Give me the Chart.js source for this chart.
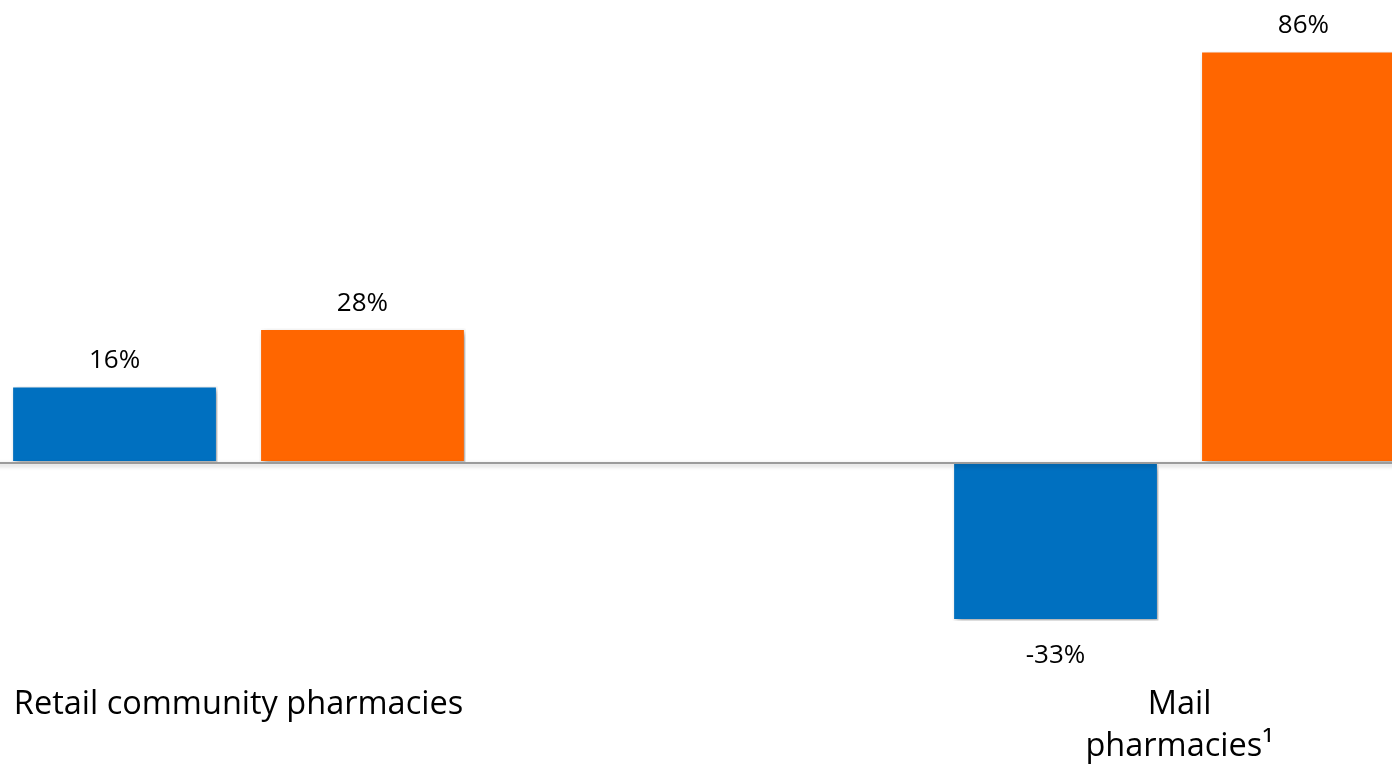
<!DOCTYPE html>
<html>
<head>
<meta charset="utf-8">
<script src="https://cdn.jsdelivr.net/npm/chart.js@4.4.1/dist/chart.umd.min.js"></script>
<style>
  html, body { margin: 0; padding: 0; background: #fff; overflow: hidden; width: 1392px; height: 766px; }
  #wrap { position: absolute; left: -232px; top: 0; width: 1882px; height: 766px; }
</style>
</head>
<body>
<div id="wrap"><canvas id="pharmacy-growth"></canvas></div>
<script>
const labels = [['Retail community pharmacies'], ['Mail', 'pharmacies\u00B9']];
const seriesBlue = [16, -33];
const seriesOrange = [28, 86];

// percent labels above (or below) each bar
const valueLabels = {
  id: 'valueLabels',
  afterDatasetsDraw(chart) {
    const ctx = chart.ctx;
    ctx.save();
    ctx.font = '26px "Open Sans"';
    ctx.fillStyle = '#000';
    ctx.textAlign = 'center';
    ctx.textBaseline = 'middle';
    chart.data.datasets.forEach((ds, i) => {
      chart.getDatasetMeta(i).data.forEach((bar, j) => {
        const v = ds.data[j];
        const y = v >= 0 ? bar.y - 25 : bar.y + 35;
        ctx.fillText(v + '%', bar.x, y);
      });
    });
    ctx.restore();
  }
};

// soft drop shadow under bars, plus the zero line on top
const barShadow = {
  id: 'barShadow',
  beforeDatasetsDraw(chart) {
    const ctx = chart.ctx;
    ctx.save();
    ctx.shadowColor = 'rgba(0,0,0,0.35)';
    ctx.shadowBlur = 6;
    ctx.shadowOffsetX = 3;
    ctx.shadowOffsetY = 3;
  },
  afterDatasetsDraw(chart) {
    const ctx = chart.ctx;
    ctx.restore();
    const y0 = Math.round(chart.scales.y.getPixelForValue(0));
    ctx.save();
    ctx.shadowColor = 'rgba(0,0,0,0.25)';
    ctx.shadowBlur = 4;
    ctx.shadowOffsetY = 2;
    ctx.strokeStyle = '#9b9b9b';
    ctx.lineWidth = 2;
    ctx.beginPath();
    ctx.moveTo(0, y0);
    ctx.lineTo(chart.width, y0);
    ctx.stroke();
    ctx.restore();
  }
};

const ctx = document.getElementById('pharmacy-growth').getContext('2d');
const chart = new Chart(ctx, {
  type: 'bar',
  data: {
    labels: labels,
    datasets: [{
      label: 'Series 1',
      data: seriesBlue,
      backgroundColor: '#0070C0',
      borderColor: '#ffffff',
      borderWidth: 1.5,
      borderSkipped: false
    }, {
      label: 'Series 2',
      data: seriesOrange,
      backgroundColor: '#FF6600',
      borderColor: '#ffffff',
      borderWidth: 1.5,
      borderSkipped: false
    }]
  },
  options: {
    responsive: true,
    maintainAspectRatio: false,
    animation: false,
    categoryPercentage: 0.527,
    barPercentage: 0.83,
    layout: { padding: { top: 8, left: 0, right: 0, bottom: -5 } },
    plugins: {
      legend: { display: false },
      tooltip: { enabled: false }
    },
    scales: {
      x: {
        grid: { display: false },
        border: { display: false },
        ticks: {
          color: '#000',
          padding: 3,
          maxRotation: 0,
          autoSkip: false,
          font: { family: 'Open Sans', size: 32.5, lineHeight: 1.292 }
        }
      },
      y: {
        display: false,
        min: -44,
        max: 95
      }
    }
  },
  plugins: [barShadow, valueLabels]
});
</script>
</body>
</html>
